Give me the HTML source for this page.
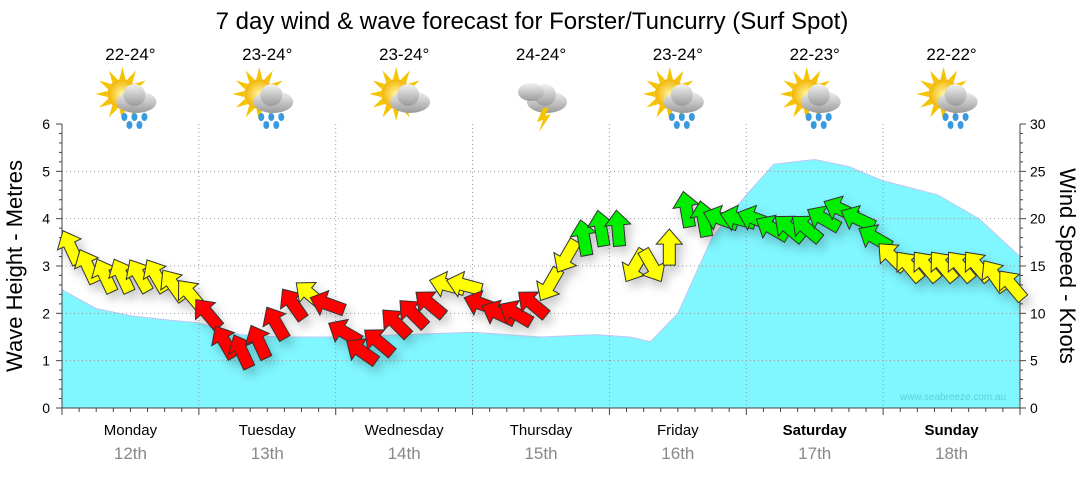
<!DOCTYPE html>
<html><head><meta charset="utf-8"><style>
body{margin:0;background:#fff;font-family:"Liberation Sans","DejaVu Sans",sans-serif}
</style></head><body>
<svg id="c" width="1080" height="475" xmlns="http://www.w3.org/2000/svg" font-family="Liberation Sans, DejaVu Sans, sans-serif">
<defs>
<filter id="sh" x="-20%" y="-20%" width="140%" height="140%"><feDropShadow dx="4" dy="6" stdDeviation="5" flood-color="#000" flood-opacity="0.22"/></filter>
<radialGradient id="sun" cx="50%" cy="50%" r="50%"><stop offset="0" stop-color="#fff6a0"/><stop offset="1" stop-color="#f2b400"/></radialGradient>
<linearGradient id="cl" x1="0" y1="0" x2="0" y2="1"><stop offset="0" stop-color="#f2f2f2"/><stop offset="1" stop-color="#9a9a9a"/></linearGradient>
</defs>
<text x="532" y="29" font-size="24" text-anchor="middle" fill="#000">7 day wind &amp; wave forecast for Forster/Tuncurry (Surf Spot)</text>
<g id="g"></g>
</svg>
<script>
const days=["Monday","Tuesday","Wednesday","Thursday","Friday","Saturday","Sunday"];
const dates=["12th","13th","14th","15th","16th","17th","18th"];
const temps=["22-24°","23-24°","23-24°","24-24°","23-24°","22-23°","22-22°"];
const icons=["rain","rain","cloud","storm","rain","rain","rain"];
const waveX=[0,0.25,0.5,0.8,1.0,1.3,1.6,2.0,2.5,3.0,3.5,3.9,4.15,4.3,4.5,4.75,5.0,5.2,5.5,5.75,6.0,6.4,6.7,7.0];
const waveH=[2.5,2.1,1.95,1.85,1.8,1.55,1.5,1.5,1.55,1.6,1.5,1.55,1.5,1.4,2.0,3.6,4.5,5.15,5.25,5.1,4.8,4.5,4.0,3.2];
const windKn=[17,15,14,14,14,14,13,12, 10,7,6,7,9,11,12,11, 8,6,7,9,10,11,13,13, 11,10,10,11,13,16,18,19, 19,15,15,17,21,20,20,20, 20,19,19,19,20,21,20,18, 16,15,15,15,15,15,14,13];
const windDir=[-115,-115,-115,-115,-120,-120,-125,-130, -130,-120,-115,-115,-120,-125,-140,-160, -150,-145,-140,-135,-135,-140,-165,-165, -160,-155,-150,-140,120,120,-100,-100, -95,120,60,-90,-100,-100,-160,-165, -160,-150,-140,-140,-150,-155,-155,-150, -135,-130,-130,-130,-130,-130,-125,-130];
const leftTicks=[0,1,2,3,4,5,6];
const rightTicks=[0,5,10,15,20,25,30];
const X0=62,X1=1020,Y0=408,Y1=124;
const xs=d=>X0+d*(X1-X0)/7;
const yW=m=>Y0-m*(Y0-Y1)/6;
const yK=k=>Y0-k*(Y0-Y1)/30;
const g=document.getElementById('g');
const NS="http://www.w3.org/2000/svg";
function mk(t,a,p){const e=document.createElementNS(NS,t);for(const k in a)e.setAttribute(k,a[k]);(p||g).appendChild(e);return e;}
let d=`M${xs(0)},${Y0}`;waveX.forEach((x,i)=>d+=`L${xs(x)},${yW(waveH[i])}`);d+=`L${xs(7)},${Y0}Z`;
const wa=mk('path',{d,fill:'#80f6ff',stroke:'#c0c8f0','stroke-width':1,'stroke-linejoin':'round'});


leftTicks.forEach(v=>{if(v>0&&v<6){const l=mk('line',{x1:X0,x2:X1,y1:yW(v),y2:yW(v),stroke:'#999','stroke-dasharray':'1,3'});

}});
for(let i=1;i<7;i++){const l=mk('line',{x1:xs(i),x2:xs(i),y1:Y1,y2:Y0,stroke:'#999','stroke-dasharray':'1,3'});

}
mk('text',{x:900,y:400,'font-size':10,fill:'#5ad0e0'}).textContent='www.seabreeze.com.au';
mk('line',{x1:X0,x2:X0,y1:Y1,y2:Y0,stroke:'#444'});mk('line',{x1:X1,x2:X1,y1:Y1,y2:Y0,stroke:'#444'});
mk('line',{x1:X0,x2:X1,y1:Y0,y2:Y0,stroke:'#444'});
for(let v=0;v<=6.001;v+=0.2){const y=yW(v);const maj=Math.abs(v-Math.round(v))<0.01;mk('line',{x1:X0-(maj?6:3),x2:X0,y1:y,y2:y,stroke:'#444'});}
for(let v=0;v<=30;v+=1){const y=yK(v);mk('line',{x1:X1,x2:X1+(v%5==0?6:3),y1:y,y2:y,stroke:'#444'});}
for(let h=0;h<=56;h++){const x=xs(h/8);mk('line',{x1:x,x2:x,y1:Y0,y2:Y0+(h%8==0?7:4),stroke:'#444'});}
leftTicks.forEach(v=>{const t=mk('text',{x:50,y:yW(v)+5,'font-size':14,'text-anchor':'end'});t.textContent=v;

});
rightTicks.forEach(v=>{const t=mk('text',{x:1030,y:yK(v)+5,'font-size':14});t.textContent=v;

});
const lt=mk('text',{x:0,y:0,'font-size':22,'text-anchor':'middle',transform:'translate(22,266) rotate(-90)'});lt.textContent='Wave Height - Metres';


const rt=mk('text',{x:0,y:0,'font-size':22,'text-anchor':'middle',transform:'translate(1060,266) rotate(90)'});rt.textContent='Wind Speed - Knots';


days.forEach((n,i)=>{const cx=xs(i+0.5);
const t=mk('text',{x:cx,y:435,'font-size':15,'text-anchor':'middle','font-weight':i>=5?'bold':'normal'});t.textContent=n;


const t2=mk('text',{x:cx,y:459,'font-size':17,'text-anchor':'middle',fill:'#888'});t2.textContent=dates[i];


const t3=mk('text',{x:cx,y:60,'font-size':17,'text-anchor':'middle'});t3.textContent=temps[i];


const ic=mk('g',{transform:`translate(${cx},98)`});


if(icons[i]!='storm'){for(let a=0;a<360;a+=30){mk('polygon',{points:'-3,-15 0,-27 3,-15',fill:'#f5c400',transform:`translate(-8,-4) rotate(${a})`},ic);}
mk('circle',{cx:-8,cy:-4,r:15,fill:'url(#sun)'},ic);}
mk('ellipse',{cx:6,cy:4,rx:20,ry:11,fill:'url(#cl)'},ic);mk('circle',{cx:4,cy:-3,r:11,fill:'url(#cl)'},ic);
if(icons[i]=='rain'){[[-6,19],[4,19],[14,19],[-1,27],[9,27]].forEach(p=>mk('ellipse',{cx:p[0],cy:p[1],rx:3,ry:4,fill:'#3a9ae0'},ic));}
if(icons[i]=='storm'){mk('polygon',{points:'2,10 -4,24 2,22 -2,34 10,16 4,18 8,10',fill:'#f5c400'},ic);mk('ellipse',{cx:-10,cy:-6,rx:13,ry:9,fill:'url(#cl)'},ic);}
});
const ag=mk('g',{filter:'url(#sh)'});


windKn.forEach((k,i)=>{const x=xs((i+0.5)/8),y=yK(k);
const col=k<11.5?'#ff0000':(k<17.5?'#ffff00':'#00ee00');
const a=mk('polygon',{points:'18,0 3,-13 3,-6 -18,-6 -18,6 3,6 3,13',fill:col,stroke:'#333','stroke-width':1,transform:`translate(${x},${y}) rotate(${windDir[i]})`},ag);

});
</script>
</body></html>
